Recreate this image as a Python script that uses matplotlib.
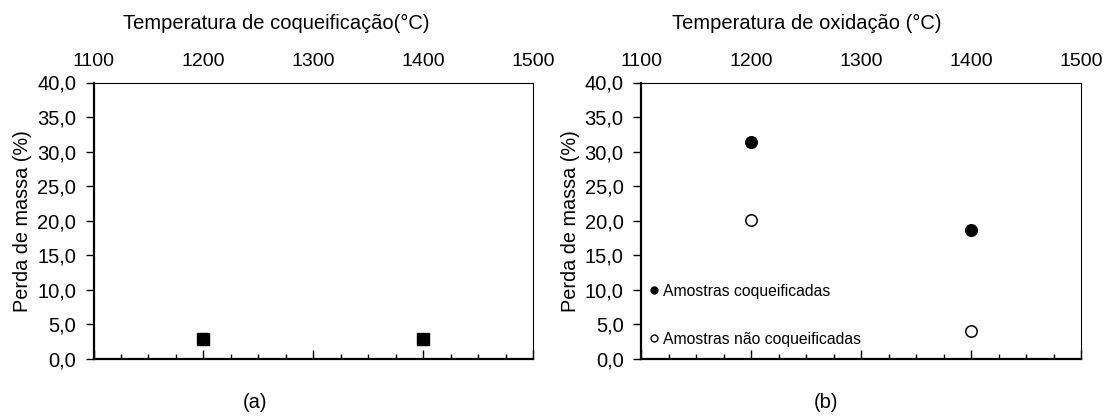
import matplotlib
matplotlib.use('Agg')
import matplotlib.pyplot as plt
from matplotlib.lines import Line2D
from matplotlib.ticker import MultipleLocator, FuncFormatter

plt.rcParams['font.family'] = ['Liberation Sans', 'DejaVu Sans']

# (a) perda de massa x temperatura de coqueificacao
temp_coq = [1200, 1400]
perda_coq = [2.9, 2.9]

# (b) perda de massa x temperatura de oxidacao
temp_oxi = [1200, 1400]
perda_coqueificadas = [31.4, 18.7]
perda_nao_coqueificadas = [20.1, 4.0]

titulo_a = 'Temperatura de coqueificação(°C)'
titulo_b = 'Temperatura de oxidação (°C)'
ylabel = 'Perda de massa (%)'
leg_labels = ['Amostras coqueificadas', 'Amostras não coqueificadas']

W, H = 1109, 416
fig = plt.figure(figsize=(W / 100, H / 100), dpi=100)

FS = 14.5


def style_axes(ax):
    ax.set_xlim(1100, 1500)
    ax.set_ylim(0, 40)
    ax.xaxis.set_major_locator(MultipleLocator(100))
    ax.xaxis.set_minor_locator(MultipleLocator(25))
    ax.yaxis.set_major_locator(MultipleLocator(5))
    ax.yaxis.set_major_formatter(FuncFormatter(lambda v, p: f'{v:.1f}'.replace('.', ',')))
    ax.tick_params(axis='x', which='both', direction='in', top=False, bottom=True,
                   labeltop=True, labelbottom=False, labelsize=14, pad=9, width=1)
    ax.tick_params(axis='x', which='major', length=6.5)
    ax.tick_params(axis='x', which='minor', length=3.5)
    ax.tick_params(axis='y', which='major', direction='out', length=6, width=1,
                   labelsize=FS, pad=6.5)
    ax.spines['left'].set_linewidth(1.6)
    ax.spines['bottom'].set_linewidth(1.6)
    ax.spines['top'].set_linewidth(0.8)
    ax.spines['right'].set_linewidth(0.8)
    ax.set_ylabel(ylabel, fontsize=14.3)
    ax.yaxis.set_label_coords(-61.5 / 440, 0.5)


bottom = (H - 359) / H
height = 276.5 / H

ax1 = fig.add_axes([93.5 / W, bottom, 439.5 / W, height])
style_axes(ax1)
ax1.plot(temp_coq, perda_coq, linestyle='none', marker='s', markersize=8.6,
         color='black', clip_on=False)

ax2 = fig.add_axes([641 / W, bottom, 440 / W, height])
style_axes(ax2)
ax2.plot(temp_oxi, perda_coqueificadas, linestyle='none', marker='o', markersize=8.4,
         color='black', clip_on=False)
ax2.plot(temp_oxi, perda_nao_coqueificadas, linestyle='none', marker='o', markersize=8.2,
         markerfacecolor='white', markeredgecolor='black', markeredgewidth=1.1, clip_on=False)

handles = [
    Line2D([], [], linestyle='none', marker='o', markersize=5, color='black'),
    Line2D([], [], linestyle='none', marker='o', markersize=5,
           markerfacecolor='white', markeredgecolor='black', markeredgewidth=1),
]
ax2.legend(handles, leg_labels, loc='lower left', bbox_to_anchor=(0.019, 0.045),
           frameon=False, fontsize=11.3, handlelength=0.6, handletextpad=0.3,
           labelspacing=2.1, borderpad=0, borderaxespad=0)

fig.text(123 / W, 1 - 23 / H, titulo_a, fontsize=FS, ha='left', va='center')
fig.text(672 / W, 1 - 23 / H, titulo_b, fontsize=FS, ha='left', va='center')
fig.text(255 / W, 1 - 403 / H, '(a)', fontsize=FS, ha='center', va='center')
fig.text(826 / W, 1 - 403 / H, '(b)', fontsize=FS, ha='center', va='center')

fig.savefig('out.png', dpi=100)
